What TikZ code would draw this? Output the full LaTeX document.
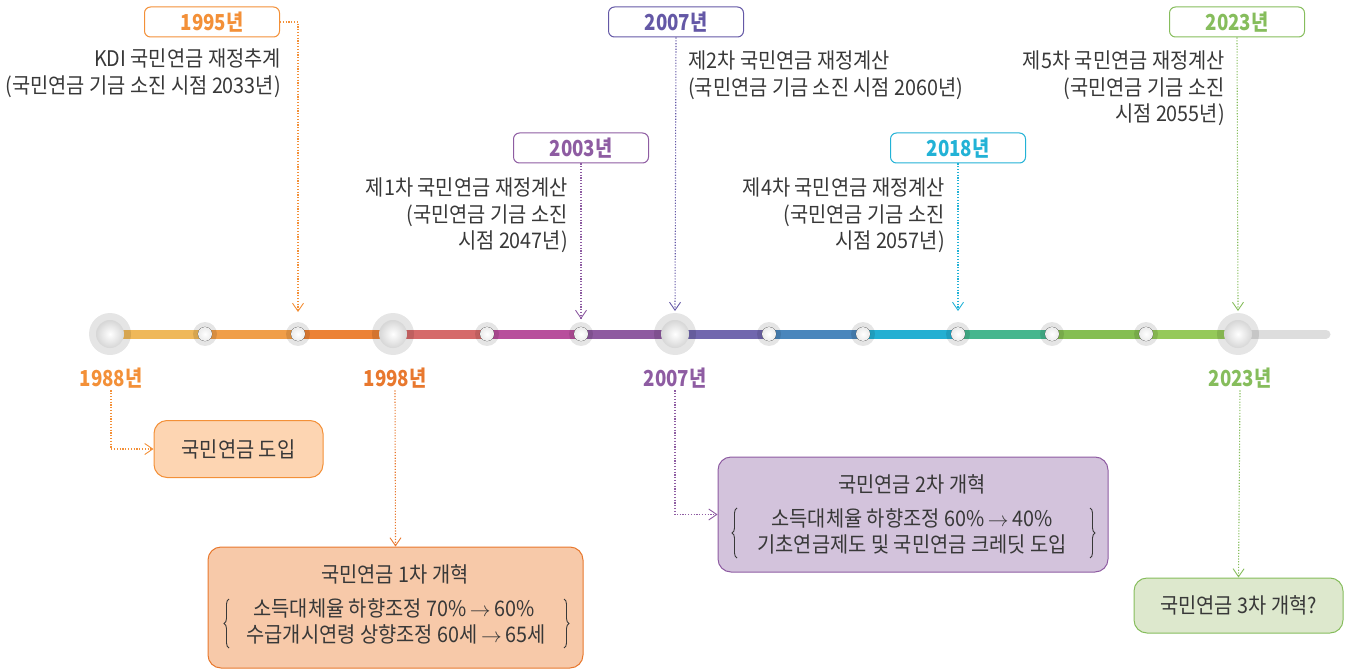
\documentclass[tikz,border=0pt]{standalone}
\usepackage{fontspec}
\setmainfont{Noto Sans CJK KR}[FakeStretch=0.92]
\newfontfamily\yearfont{Noto Sans CJK KR}[FakeStretch=0.85]
\usetikzlibrary{arrows.meta,decorations.pathreplacing}
\definecolor{txt}{HTML}{383838}
\definecolor{cA}{HTML}{F39038}
\definecolor{cB}{HTML}{E8782E}
\definecolor{cP}{HTML}{8E5CA2}
\definecolor{cV}{HTML}{6458A6}
\definecolor{cC}{HTML}{22B2D6}
\definecolor{cG}{HTML}{86BD5C}
\definecolor{s1}{HTML}{EFB85A}
\definecolor{s2}{HTML}{F09E48}
\definecolor{s3}{HTML}{EC8235}
\definecolor{s4}{HTML}{D56A6A}
\definecolor{s5}{HTML}{B84E9C}
\definecolor{s6}{HTML}{8E5AA0}
\definecolor{s7}{HTML}{7167AE}
\definecolor{s8}{HTML}{4A86BC}
\definecolor{s9}{HTML}{23AFD2}
\definecolor{s10}{HTML}{46B68E}
\definecolor{s11}{HTML}{85BE52}
\definecolor{s12}{HTML}{95C95A}
\definecolor{s13}{HTML}{DDDDDD}
\definecolor{fA}{HTML}{FDD5B2}
\definecolor{fB}{HTML}{F7C9A9}
\definecolor{fC}{HTML}{D3C3DC}
\definecolor{fD}{HTML}{DDE8CD}
\newcommand{\arr}{\,$\rightarrow$\,}
\tikzset{
  yearbox/.style={draw=#1, line width=1pt, rounded corners=6pt, fill=white,
    minimum width=135pt, minimum height=30pt, inner sep=0pt, text=#1,
    font=\yearfont\bfseries\fontsize{22}{22}\selectfont},
  ylabel/.style={text=#1, inner sep=2pt, font=\yearfont\bfseries\fontsize{22}{22}\selectfont},
  desc/.style={text=txt, inner sep=0pt, font=\fontsize{21.5}{26.5}\selectfont},
  conn/.style={draw=#1, line width=1.1pt, dash pattern=on 1.2pt off 1.6pt,
    -{Straight Barb[length=8pt,width=11pt,line width=0.9pt]}},
  evbox/.style 2 args={draw=#1, fill=#2, line width=1pt, rounded corners=13pt, inner sep=0pt},
  brc/.style={draw=txt, line width=0.9pt, decorate, decoration={brace, amplitude=5pt}},
  seg/.style={line width=9pt, draw=#1},
  bigdot/.style={circle, inner sep=0pt, minimum size=28pt, shading=radial, inner color=white, outer color=black!16},
  smalldot/.style={circle, inner sep=0pt, minimum size=14pt, shading=radial, inner color=white, outer color=black!8}
}
\begin{document}
\begin{tikzpicture}[x=1pt,y=-1pt]
\useasboundingbox (0,0) rectangle (1351,671);
% timeline positions
\coordinate (p0) at (110,334);
\coordinate (p1) at (205,334);
\coordinate (p2) at (298,334);
\coordinate (p3) at (393,334);
\coordinate (p4) at (487,334);
\coordinate (p5) at (581,334);
\coordinate (p6) at (675,334);
\coordinate (p7) at (769,334);
\coordinate (p8) at (863,334);
\coordinate (p9) at (958,334);
\coordinate (p10) at (1052,334);
\coordinate (p11) at (1146,334);
\coordinate (p12) at (1238,334);
\coordinate (pend) at (1326,334);
% segments
\draw[seg=s1] (p0) -- (p1);
\draw[seg=s2] (p1) -- (p2);
\draw[seg=s3] (p2) -- (p3);
\draw[seg=s4] (p3) -- (p4);
\draw[seg=s5] (p4) -- (p5);
\draw[seg=s6] (p5) -- (p6);
\draw[seg=s7] (p6) -- (p7);
\draw[seg=s8] (p7) -- (p8);
\draw[seg=s9] (p8) -- (p9);
\draw[seg=s10] (p9) -- (p10);
\draw[seg=s11] (p10) -- (p11);
\draw[seg=s12] (p11) -- (p12);
\draw[seg=s13, line cap=round] (p12) -- (pend);
% halos
\foreach \p in {p0,p3,p6,p12} \fill[black,opacity=0.1] (\p) circle (21pt);
\foreach \p in {p1,p2,p4,p5,p7,p8,p9,p10,p11} {
  \fill[black,opacity=0.1] (\p) circle (12pt);
  \fill[black!85, xshift=2pt, yshift=-2pt] (\p) circle (7.2pt);
}
% dots
\node[bigdot] (d0) at (p0) {};
\node[bigdot] (d3) at (p3) {};
\node[bigdot] (d6) at (p6) {};
\node[bigdot] (d12) at (p12) {};
\foreach \p in {p1,p2,p4,p5,p7,p8,p9,p10,p11} \node[smalldot] (d\p) at (\p) {};

% top year boxes
\node[yearbox=cA] (y1995) at (212,22) {1995년};
\node[yearbox=cP] (y2003) at (581,148) {2003년};
\node[yearbox=cV] (y2007) at (676,22) {2007년};
\node[yearbox=cC] (y2018) at (958,148) {2018년};
\node[yearbox=cG] (y2023) at (1237,22) {2023년};

\coordinate (a1995) at (298,312);
\coordinate (a2003) at (581,319);
\coordinate (a2007) at (675,311);
\coordinate (a2018) at (958,311);
\coordinate (a2023) at (1238,311);
\draw[conn=cA] (y1995.east) -| (a1995);
\draw[conn=cP] (y2003.south) -- (a2003);
\draw[conn=cV] (y2007.south) -- (a2007);
\draw[conn=cC] (y2018.south) -- (a2018);
\draw[conn=cG] (y2023.south) -- (a2023);

% descriptions
\node[desc, anchor=north east, align=right] (t1995) at (281,49) {KDI 국민연금 재정추계\\(국민연금 기금 소진 시점 2033년)};
\node[desc, anchor=north east, align=right] (t2003) at (568,178) {제1차 국민연금 재정계산\\(국민연금 기금 소진\\시점 2047년)};
\node[desc, anchor=north west, align=left] (t2007) at (688,51) {제2차 국민연금 재정계산\\(국민연금 기금 소진 시점 2060년)};
\node[desc, anchor=north east, align=right] (t2018) at (945,178) {제4차 국민연금 재정계산\\(국민연금 기금 소진\\시점 2057년)};
\node[desc, anchor=north east, align=right] (t2023) at (1225,51) {제5차 국민연금 재정계산\\(국민연금 기금 소진\\시점 2055년)};

% bottom year labels
\node[ylabel=cA] (l1988) at (111,378) {1988년};
\node[ylabel=cB] (l1998) at (395,378) {1998년};
\node[ylabel=cP] (l2007) at (675,378) {2007년};
\node[ylabel=cG] (l2023) at (1240,378) {2023년};

% event boxes
\node[evbox={cA}{fA}, minimum width=169pt, minimum height=57pt] (bA) at (238.5,449) {};
\node[desc] (bAt) at (bA) {국민연금 도입};
\node[evbox={cB}{fB}, minimum width=375pt, minimum height=121pt] (bB) at (395.5,607.5) {};
\node[evbox={cP}{fC}, minimum width=390pt, minimum height=115pt] (bC) at (913,514.5) {};
\node[evbox={cG}{fD}, minimum width=209pt, minimum height=55pt] (bD) at (1238.5,605.5) {};
\node[desc] (bDt) at (bD) {국민연금 3차 개혁?};

\node[desc] (bBt) at (395,574) {국민연금 1차 개혁};
\node[desc] (bB1) at (394,608) {소득대체율 하향조정 70\%\arr 60\%};
\node[desc] (bB2) at (396,634) {수급개시연령 상향조정 60세\arr 65세};
\draw[brc] (229,648) -- (229,599);
\draw[brc] (564,599) -- (564,648);

\node[desc] (bCt) at (912,484) {국민연금 2차 개혁};
\node[desc] (bC1) at (912,518) {소득대체율 하향조정 60\%\arr 40\%};
\node[desc] (bC2) at (912,544) {기초연금제도 및 국민연금 크레딧 도입};
\draw[brc] (737,558) -- (737,508);
\draw[brc] (1090,508) -- (1090,558);

% bottom connectors
\draw[conn=cA] (l1988.south) |- (bA.west);
\draw[conn=cB] (l1998.south) -- (bB.north);
\draw[conn=cP] (l2007.south) |- (bC.west);
\draw[conn=cG] (l2023.south) -- (bD.north);
\end{tikzpicture}
\end{document}
